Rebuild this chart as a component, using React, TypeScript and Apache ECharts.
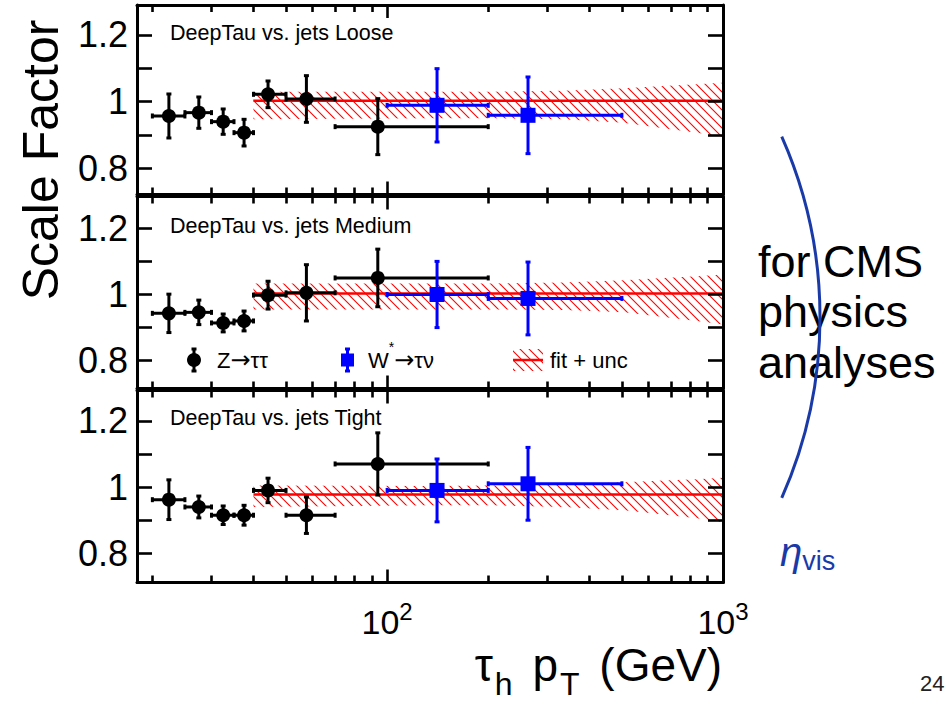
import React, { useEffect, useRef } from 'react';
import * as echarts from 'echarts';

// ---------------- data ----------------
const panelNames = ['DeepTau vs. jets Loose', 'DeepTau vs. jets Medium', 'DeepTau vs. jets Tight'];

// Z->tautau points (black): position, bin edges
const zPt = [22.4, 27.5, 32.5, 37.5, 44.2, 57.5, 93.8];
const zLo = [20, 25, 30, 35, 40, 50, 70];
const zHi = [25, 30, 35, 40, 50, 70, 200];
const zLoose = [0.957, 0.967, 0.94, 0.907, 1.022, 1.008, 0.925];
const zLooseErr = [0.066, 0.047, 0.038, 0.04, 0.04, 0.07, 0.084];
const zMedium = [0.943, 0.946, 0.914, 0.92, 0.998, 1.005, 1.05];
const zMediumErr = [0.058, 0.037, 0.027, 0.03, 0.042, 0.085, 0.087];
const zTight = [0.962, 0.94, 0.915, 0.915, 0.99, 0.915, 1.07];
const zTightErr = [0.06, 0.033, 0.028, 0.03, 0.037, 0.055, 0.094];

// W* -> tau nu points (blue)
const wPt = [140.8, 262.7];
const wLo = [100, 200];
const wHi = [200, 500];
const wLoose = [0.989, 0.959];
const wLooseErr = [0.11, 0.115];
const wMedium = [1.0, 0.988];
const wMediumErr = [0.1, 0.11];
const wTight = [0.99, 1.01];
const wTightErr = [0.095, 0.11];

// fit + uncertainty band
const fitRange = [40, 1000];
const fitLoose = 1.003;
const fitMedium = 1.003;
const fitTight = 0.978;
const bandPt = [40, 135, 203, 335, 506, 665, 836, 1000];
const bandLooseUp = [1.03, 1.03, 1.03, 1.033, 1.04, 1.047, 1.052, 1.057];
const bandLooseDn = [0.947, 0.95, 0.95, 0.947, 0.937, 0.92, 0.907, 0.895];
const bandMediumUp = [1.033, 1.033, 1.033, 1.036, 1.043, 1.05, 1.055, 1.06];
const bandMediumDn = [0.955, 0.955, 0.955, 0.953, 0.946, 0.932, 0.92, 0.909];
const bandTightUp = [1.005, 1.003, 1.005, 1.008, 1.015, 1.02, 1.024, 1.028];
const bandTightDn = [0.94, 0.945, 0.945, 0.94, 0.93, 0.917, 0.906, 0.894];

// axes
const yTickValues = [0.8, 0.9, 1.0, 1.1, 1.2];
const yLabelValues = [0.8, 1.0, 1.2];
const xMin = 18;
const xMax = 1000;

const FONT = '"Liberation Sans", Arial, Helvetica, sans-serif';
const SYM = '"DejaVu Sans", sans-serif';

// ---------------- layout ----------------
const GRID_LEFT = 137;
const GRID_WIDTH = 586;
const panelLayout = [
  { top: 5, height: 189.5, min: 0.7214, max: 1.29 },
  { top: 196.5, height: 192, min: 0.716, max: 1.296 },
  { top: 390.5, height: 192, min: 0.7117, max: 1.292 },
];

function makeHatch(): string {
  const s = 9;
  const c = document.createElement('canvas');
  c.width = s;
  c.height = s;
  const ctx = c.getContext('2d');
  if (ctx) {
    ctx.strokeStyle = '#ff0000';
    ctx.lineWidth = 1.1;
    for (const off of [-s, 0, s]) {
      ctx.beginPath();
      ctx.moveTo(off - 1, -1);
      ctx.lineTo(off + s + 1, s + 1);
      ctx.stroke();
    }
  }
  return c.toDataURL();
}

export default function App() {
  const ref = useRef<HTMLDivElement>(null);

  useEffect(() => {
    if (!ref.current) return;
    const chart = echarts.init(ref.current, null, { renderer: 'svg' });
    const hatchUrl = makeHatch();
    const hatch: any = { image: hatchUrl, repeat: 'repeat', imageWidth: 9, imageHeight: 9 };

    const zVals = [zLoose, zMedium, zTight];
    const zErrs = [zLooseErr, zMediumErr, zTightErr];
    const wVals = [wLoose, wMedium, wTight];
    const wErrs = [wLooseErr, wMediumErr, wTightErr];
    const fits = [fitLoose, fitMedium, fitTight];
    const bandUps = [bandLooseUp, bandMediumUp, bandTightUp];
    const bandDns = [bandLooseDn, bandMediumDn, bandTightDn];

    const tickLine = { color: '#000', width: 2.6 };
    const grids: any[] = [];
    const xAxes: any[] = [];
    const yAxes: any[] = [];
    const series: any[] = [];

    const errItem = (color: string, square: boolean) => (params: any, api: any) => {
      const x = api.value(0);
      const y = api.value(1);
      const lo = api.value(2);
      const hi = api.value(3);
      const e = api.value(4);
      const c = api.coord([x, y]);
      const pl = api.coord([lo, y]);
      const pr = api.coord([hi, y]);
      const pt = api.coord([x, y + e]);
      const pb = api.coord([x, y - e]);
      const cap = 2.5;
      const ls = { stroke: color, lineWidth: 3 };
      const children: any[] = [
        { type: 'line', shape: { x1: pl[0], y1: c[1], x2: pr[0], y2: c[1] }, style: ls },
        { type: 'line', shape: { x1: c[0], y1: pt[1], x2: c[0], y2: pb[1] }, style: ls },
        { type: 'line', shape: { x1: pl[0], y1: c[1] - cap, x2: pl[0], y2: c[1] + cap }, style: ls },
        { type: 'line', shape: { x1: pr[0], y1: c[1] - cap, x2: pr[0], y2: c[1] + cap }, style: ls },
        { type: 'line', shape: { x1: c[0] - cap, y1: pt[1], x2: c[0] + cap, y2: pt[1] }, style: ls },
        { type: 'line', shape: { x1: c[0] - cap, y1: pb[1], x2: c[0] + cap, y2: pb[1] }, style: ls },
      ];
      if (square) {
        children.push({ type: 'rect', shape: { x: c[0] - 7.5, y: c[1] - 7.5, width: 15, height: 15 }, style: { fill: color } });
      } else {
        children.push({ type: 'circle', shape: { cx: c[0], cy: c[1], r: 7 }, style: { fill: color } });
      }
      return { type: 'group', children };
    };

    panelLayout.forEach((p, i) => {
      grids.push({
        left: GRID_LEFT,
        width: GRID_WIDTH,
        top: p.top,
        height: p.height,
        show: false,
        containLabel: false,
        outerBoundsMode: 'none',
      });
      const baseX = {
        type: 'log',
        logBase: 10,
        gridIndex: i,
        min: xMin,
        max: xMax,
        z: 10,
        axisLine: { show: true, onZero: false, lineStyle: { color: '#000', width: 3 } },
        axisTick: { show: true, inside: true, length: 13, lineStyle: tickLine },
        minorTick: { show: true, splitNumber: 9, length: 7, lineStyle: tickLine },
        splitLine: { show: false },
        minorSplitLine: { show: false },
      };
      xAxes.push({
        ...baseX,
        position: 'bottom',
        axisLabel:
          i === 2
            ? {
                show: true,
                margin: 17,
                color: '#000',
                formatter: (v: number) => {
                  const e = Math.round(Math.log10(v));
                  if (Math.abs(Math.log10(v) - e) < 1e-6 && e >= 2) return `{b|10}{s|${e}}`;
                  return '';
                },
                rich: {
                  b: { fontSize: 34, lineHeight: 44, fontFamily: FONT, color: '#000' },
                  s: { fontSize: 24, lineHeight: 17, verticalAlign: 'top', fontFamily: FONT, color: '#000' },
                },
              }
            : { show: false },
      });
      xAxes.push({ ...baseX, position: 'top', axisLabel: { show: false } });

      const baseY = {
        type: 'value',
        gridIndex: i,
        min: p.min,
        max: p.max,
        z: 10,
        axisLine: { show: true, onZero: false, lineStyle: { color: '#000', width: 3 } },
        axisTick: { show: true, inside: true, length: 15, customValues: yTickValues, lineStyle: tickLine },
        splitLine: { show: false },
      };
      yAxes.push({
        ...baseY,
        position: 'left',
        axisLabel: {
          show: true,
          customValues: yLabelValues,
          fontSize: 36,
          fontFamily: FONT,
          color: '#000',
          margin: 9,
          padding: [5, 0, 0, 0],
          formatter: (v: number) => String(Math.round(v * 10) / 10),
        },
      });
      yAxes.push({ ...baseY, position: 'right', axisLabel: { show: false } });

      const xb = 2 * i;
      const yl = 2 * i;
      const ups = bandUps[i];
      const dns = bandDns[i];
      series.push({
        type: 'custom',
        name: 'band' + i,
        xAxisIndex: xb,
        yAxisIndex: yl,
        z: 1,
        encode: { x: 0, y: 1 },
        data: bandPt.map((pt, k) => [pt, ups[k], dns[k]]),
        renderItem: (params: any, api: any) => {
          if (params.dataIndex !== 0) return null;
          const pts: number[][] = [];
          bandPt.forEach((pt, k) => pts.push(api.coord([pt, ups[k]])));
          for (let k = bandPt.length - 1; k >= 0; k--) pts.push(api.coord([bandPt[k], dns[k]]));
          return { type: 'polygon', shape: { points: pts }, style: { fill: hatch, stroke: null } };
        },
      });
      series.push({
        type: 'line',
        name: 'fit' + i,
        xAxisIndex: xb,
        yAxisIndex: yl,
        z: 2,
        showSymbol: false,
        symbol: 'none',
        lineStyle: { color: '#ff0000', width: 2.5 },
        data: fitRange.map((x) => [x, fits[i]]),
      });
      series.push({
        type: 'custom',
        name: 'Z' + i,
        xAxisIndex: xb,
        yAxisIndex: yl,
        z: 3,
        encode: { x: 0, y: 1 },
        data: zPt.map((x, k) => [x, zVals[i][k], zLo[k], zHi[k], zErrs[i][k]]),
        renderItem: errItem('#000000', false),
      });
      series.push({
        type: 'custom',
        name: 'W' + i,
        xAxisIndex: xb,
        yAxisIndex: yl,
        z: 4,
        encode: { x: 0, y: 1 },
        data: wPt.map((x, k) => [x, wVals[i][k], wLo[k], wHi[k], wErrs[i][k]]),
        renderItem: errItem('#0000ff', true),
      });
    });

    const blue = '#1a3aa8';
    const graphic: any[] = [
      // panel labels
      ...panelNames.map((t, i) => ({
        type: 'text',
        x: 170,
        y: [32.5, 226, 417.5][i],
        z: 20,
        style: { text: t, fontSize: 21.5, fontFamily: FONT, fill: '#000', verticalAlign: 'middle' },
      })),
      // y title
      {
        type: 'text',
        x: 41,
        y: 160,
        rotation: Math.PI / 2,
        style: { text: 'Scale Factor', fontSize: 50, fontFamily: FONT, fill: '#000', align: 'center', verticalAlign: 'middle' },
      },
      // x title
      {
        type: 'text',
        x: 722,
        y: 665,
        style: {
          text: '{a|τ}{h|h}{g| }{a|p}{t|T}{g| }{a|(GeV)}',
          align: 'right',
          verticalAlign: 'middle',
          rich: {
            a: { fontSize: 46, lineHeight: 70, fontFamily: FONT, fill: '#000' },
            g: { fontSize: 46, lineHeight: 70, fontFamily: FONT, fill: '#000', padding: [0, 5, 0, 0] },
            h: { fontSize: 32, lineHeight: 42, verticalAlign: 'bottom', fontFamily: FONT, fill: '#000', padding: [0, 2, 0, 2] },
            t: { fontSize: 32, lineHeight: 16, verticalAlign: 'bottom', fontFamily: FONT, fill: '#000', padding: [0, 2, 0, 2] },
          },
        },
      },
      // legend (in medium panel)
      { type: 'line', z: 20, shape: { x1: 194, y1: 349, x2: 194, y2: 371 }, style: { stroke: '#000', lineWidth: 3 } },
      { type: 'line', z: 20, shape: { x1: 191.5, y1: 349, x2: 196.5, y2: 349 }, style: { stroke: '#000', lineWidth: 3 } },
      { type: 'line', z: 20, shape: { x1: 191.5, y1: 371, x2: 196.5, y2: 371 }, style: { stroke: '#000', lineWidth: 3 } },
      { type: 'circle', z: 20, shape: { cx: 194, cy: 360, r: 7 }, style: { fill: '#000' } },
      {
        type: 'text',
        z: 20,
        x: 217,
        y: 360,
        style: {
          text: '{n|Z}{r|→}{n|ττ}',
          verticalAlign: 'middle',
          rich: {
            n: { fontSize: 22, lineHeight: 30, fontFamily: FONT, fill: '#000' },
            r: { fontSize: 24, lineHeight: 30, fontFamily: SYM, fill: '#000' },
          },
        },
      },
      { type: 'line', z: 20, shape: { x1: 347.5, y1: 349, x2: 347.5, y2: 371 }, style: { stroke: '#0000ff', lineWidth: 3 } },
      { type: 'line', z: 20, shape: { x1: 345, y1: 349, x2: 350, y2: 349 }, style: { stroke: '#0000ff', lineWidth: 3 } },
      { type: 'line', z: 20, shape: { x1: 345, y1: 371, x2: 350, y2: 371 }, style: { stroke: '#0000ff', lineWidth: 3 } },
      { type: 'rect', z: 20, shape: { x: 341, y: 353.5, width: 13, height: 13 }, style: { fill: '#0000ff' } },
      {
        type: 'text',
        z: 20,
        x: 368,
        y: 360,
        style: {
          text: '{n|W}{s|*}{r|→}{n|τν}',
          verticalAlign: 'middle',
          rich: {
            n: { fontSize: 22, lineHeight: 40, fontFamily: FONT, fill: '#000' },
            r: { fontSize: 24, lineHeight: 40, fontFamily: SYM, fill: '#000' },
            s: { fontSize: 14, lineHeight: 12, verticalAlign: 'top', fontFamily: FONT, fill: '#000' },
          },
        },
      },
      { type: 'rect', z: 20, shape: { x: 513, y: 349, width: 30, height: 22 }, style: { fill: hatch, stroke: null } },
      { type: 'line', z: 21, shape: { x1: 513, y1: 360, x2: 543, y2: 360 }, style: { stroke: '#ff0000', lineWidth: 2.5 } },
      { type: 'text', z: 20, x: 550, y: 360, style: { text: 'fit + unc', fontSize: 22, fontFamily: FONT, fill: '#000', verticalAlign: 'middle' } },
      // right side slide text
      { type: 'text', x: 758, y: 261, style: { text: 'for CMS', fontSize: 45, fontFamily: FONT, fill: '#000', verticalAlign: 'middle' } },
      { type: 'text', x: 758, y: 311, style: { text: 'physics', fontSize: 45, fontFamily: FONT, fill: '#000', verticalAlign: 'middle' } },
      { type: 'text', x: 758, y: 362, style: { text: 'analyses', fontSize: 45, fontFamily: FONT, fill: '#000', verticalAlign: 'middle' } },
      {
        type: 'arc',
        z: 30,
        shape: { cx: 374.6, cy: 317.3, r: 445.4, startAngle: -0.4175, endAngle: 0.4175, clockwise: true },
        style: { stroke: blue, lineWidth: 3, fill: null },
      },
      {
        type: 'text',
        x: 780,
        y: 552,
        style: {
          text: '{e|η}{v|vis}',
          verticalAlign: 'middle',
          rich: {
            e: { fontSize: 40, lineHeight: 44, fontStyle: 'italic', fontFamily: FONT, fill: blue },
            v: { fontSize: 27, lineHeight: 28, verticalAlign: 'bottom', fontFamily: FONT, fill: blue },
          },
        },
      },
      { type: 'text', x: 920, y: 683, style: { text: '24', fontSize: 22, fontFamily: FONT, fill: '#222', verticalAlign: 'middle' } },
    ];

    chart.setOption({
      animation: false,
      backgroundColor: '#ffffff',
      grid: grids,
      xAxis: xAxes,
      yAxis: yAxes,
      series,
      graphic,
    });
    return () => chart.dispose();
  }, []);

  return (
    <div
      ref={ref}
      style={{ position: 'absolute', left: 0, top: 0, width: 946, height: 705, background: '#fff' }}
    />
  );
}
